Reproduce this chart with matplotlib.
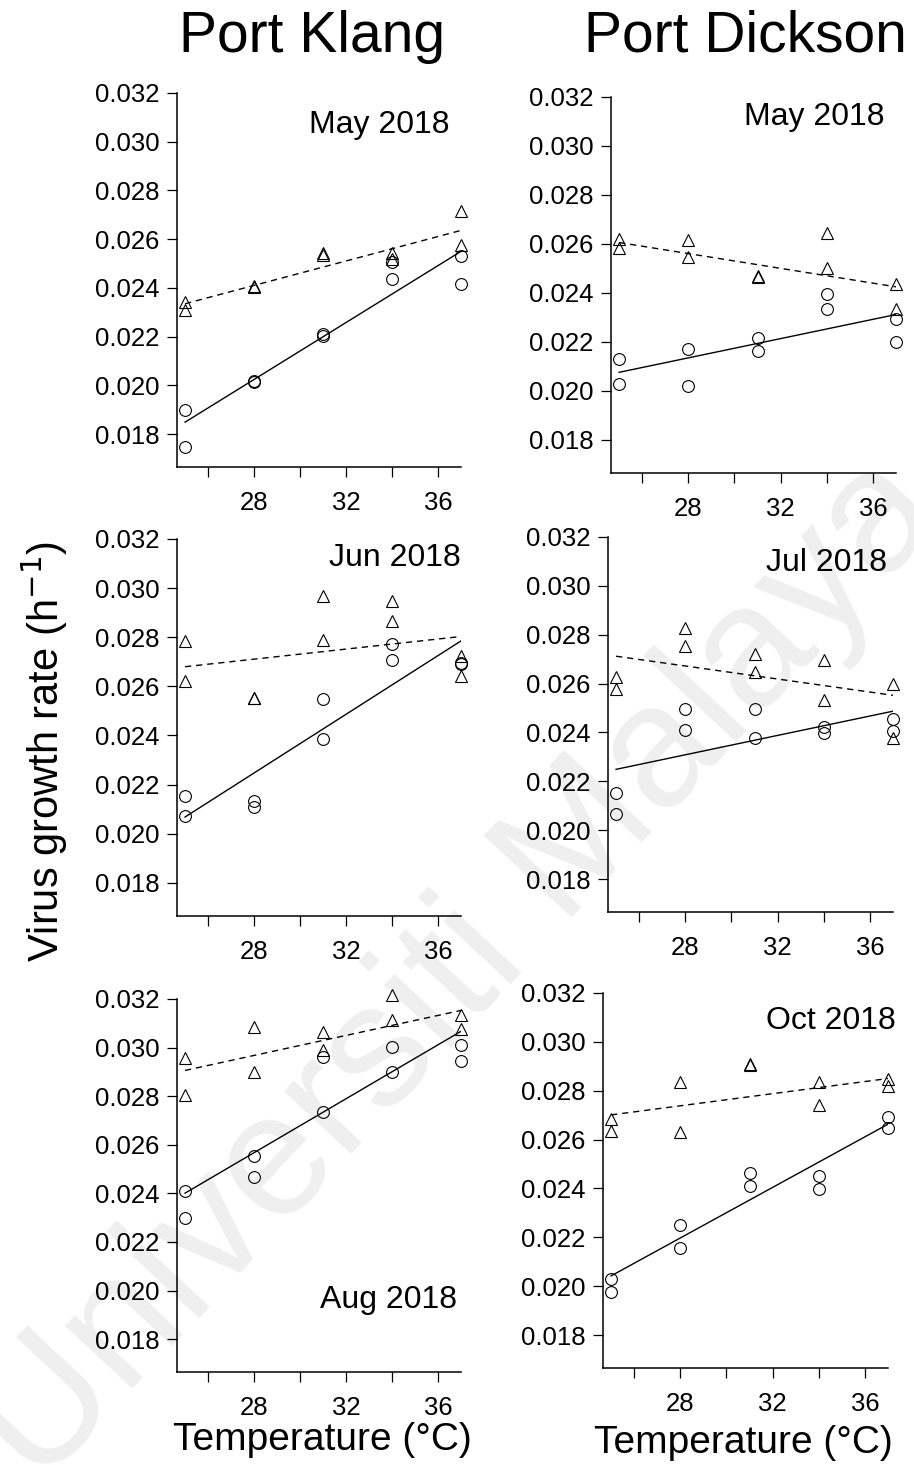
import numpy as np
import matplotlib
matplotlib.use("Agg")
import matplotlib.pyplot as plt

plt.rcParams['font.family'] = ['Liberation Sans', 'DejaVu Sans']

# temperatures (two replicates at each)
temps = [25, 25, 28, 28, 31, 31, 34, 34, 37, 37]
fit_x = [25, 37]

# Port Klang
pk_may_circ = [0.01900, 0.01749, 0.02016, 0.02012, 0.02212, 0.02204, 0.02506, 0.02438, 0.02529, 0.02417]
pk_may_tri = [0.02341, 0.02310, 0.02406, 0.02402, 0.02543, 0.02535, 0.02543, 0.02520, 0.02714, 0.02575]
pk_may_fit_solid = [0.01849, 0.02550]
pk_may_fit_dash = [0.02335, 0.02636]

pk_jun_circ = [0.02152, 0.02071, 0.02133, 0.02109, 0.02547, 0.02386, 0.02773, 0.02707, 0.02697, 0.02690]
pk_jun_tri = [0.02785, 0.02623, 0.02554, 0.02554, 0.02969, 0.02789, 0.02946, 0.02868, 0.02725, 0.02642]
pk_jun_fit_solid = [0.02068, 0.02785]
pk_jun_fit_dash = [0.02680, 0.02803]

pk_aug_circ = [0.02409, 0.02300, 0.02552, 0.02469, 0.02960, 0.02734, 0.03002, 0.02901, 0.03010, 0.02943]
pk_aug_tri = [0.02957, 0.02806, 0.03083, 0.02899, 0.03063, 0.02991, 0.03218, 0.03112, 0.03135, 0.03076]
pk_aug_fit_solid = [0.02401, 0.03067]
pk_aug_fit_dash = [0.02906, 0.03153]

# Port Dickson
pd_may_circ = [0.02132, 0.02028, 0.02172, 0.02022, 0.02215, 0.02164, 0.02395, 0.02333, 0.02292, 0.02201]
pd_may_tri = [0.02622, 0.02582, 0.02616, 0.02545, 0.02471, 0.02465, 0.02643, 0.02500, 0.02436, 0.02336]
pd_may_fit_solid = [0.02076, 0.02312]
pd_may_fit_dash = [0.02606, 0.02425]

pd_jul_circ = [0.02154, 0.02065, 0.02494, 0.02408, 0.02497, 0.02376, 0.02423, 0.02399, 0.02453, 0.02407]
pd_jul_tri = [0.02626, 0.02578, 0.02827, 0.02755, 0.02722, 0.02646, 0.02695, 0.02532, 0.02600, 0.02378]
pd_jul_fit_solid = [0.02249, 0.02487]
pd_jul_fit_dash = [0.02712, 0.02552]

pd_oct_circ = [0.02031, 0.01976, 0.02251, 0.02156, 0.02465, 0.02410, 0.02451, 0.02397, 0.02692, 0.02649]
pd_oct_tri = [0.02684, 0.02634, 0.02834, 0.02629, 0.02909, 0.02905, 0.02834, 0.02741, 0.02848, 0.02820]
pd_oct_fit_solid = [0.02042, 0.02663]
pd_oct_fit_dash = [0.02701, 0.02850]

yticks = [0.018, 0.020, 0.022, 0.024, 0.026, 0.028, 0.030, 0.032]
xticks = [26, 28, 30, 32, 34, 36]
xticklabels = ['', '28', '', '32', '', '36']

W, H = 914, 1465
fig = plt.figure(figsize=(W / 100, H / 100), dpi=100)

# watermark
fig.text(460 / W, 1 - 972 / H, 'Universiti Malaya', fontsize=126, color='#efefef',
         rotation=47, ha='center', va='center', zorder=-5)

# panels: (pixel box left, top, right, bottom), data, label, label pos
panels = [
    ((177, 93, 461, 467), pk_may_circ, pk_may_tri, pk_may_fit_solid, pk_may_fit_dash, 'May 2018', (0.961, 0.915)),
    ((611, 97, 896, 473), pd_may_circ, pd_may_tri, pd_may_fit_solid, pd_may_fit_dash, 'May 2018', (0.961, 0.947)),
    ((177, 539, 461, 916), pk_jun_circ, pk_jun_tri, pk_jun_fit_solid, pk_jun_fit_dash, 'Jun 2018', (1.0, 0.95)),
    ((608, 537, 893, 912), pd_jul_circ, pd_jul_tri, pd_jul_fit_solid, pd_jul_fit_dash, 'Jul 2018', (0.979, 0.93)),
    ((177, 999, 461, 1372), pk_aug_circ, pk_aug_tri, pk_aug_fit_solid, pk_aug_fit_dash, 'Aug 2018', (0.986, 0.193)),
    ((603, 993, 888, 1368), pd_oct_circ, pd_oct_tri, pd_oct_fit_solid, pd_oct_fit_dash, 'Oct 2018', (1.028, 0.925)),
]

for box, circ, tri, fs, fd, lab, lpos in panels:
    l, t, r, b = box
    ax = fig.add_axes([l / W, 1 - b / H, (r - l) / W, (b - t) / H])
    ax.set_facecolor('none')
    ax.plot(temps, circ, 'o', ms=8.5, mfc='none', mec='black', mew=0.8, clip_on=False, zorder=3)
    ax.plot(temps, tri, '^', ms=8.5, mfc='none', mec='black', mew=0.8, clip_on=False, zorder=3)
    ax.plot(fit_x, fs, '-', color='black', lw=1.0, zorder=2)
    ax.plot(fit_x, fd, color='black', lw=1.0, linestyle=(0, (4.5, 3.5)), zorder=2)
    ax.set_xlim(24.65, 37.0)
    ax.set_ylim(0.01665, 0.032)
    ax.set_yticks(yticks)
    ax.set_yticklabels(['%.3f' % v for v in yticks])
    ax.set_xticks(xticks)
    ax.set_xticklabels(xticklabels)
    for s in ['top', 'right']:
        ax.spines[s].set_visible(False)
    for s in ['left', 'bottom']:
        ax.spines[s].set_linewidth(1.1)
    ax.tick_params(axis='both', direction='out', length=7.5, width=0.9, labelsize=18.5)
    ax.tick_params(axis='y', pad=5)
    ax.tick_params(axis='x', pad=10)
    ax.text(lpos[0], lpos[1], lab, transform=ax.transAxes, ha='right', va='center', fontsize=23)

fig.text(312 / W, 1 - 37 / H, 'Port Klang', fontsize=41, ha='center', va='center')
fig.text(745 / W, 1 - 37 / H, 'Port Dickson', fontsize=41, ha='center', va='center')
fig.text(322 / W, 1 - 1440 / H, 'Temperature (°C)', fontsize=28, ha='center', va='center')
fig.text(743 / W, 1 - 1443 / H, 'Temperature (°C)', fontsize=28, ha='center', va='center')
fig.text(45 / W, 1 - 752 / H, 'Virus growth rate (h$^{-1}$)', fontsize=30, rotation=90,
         ha='center', va='center')

fig.savefig('out.png', dpi=100)
